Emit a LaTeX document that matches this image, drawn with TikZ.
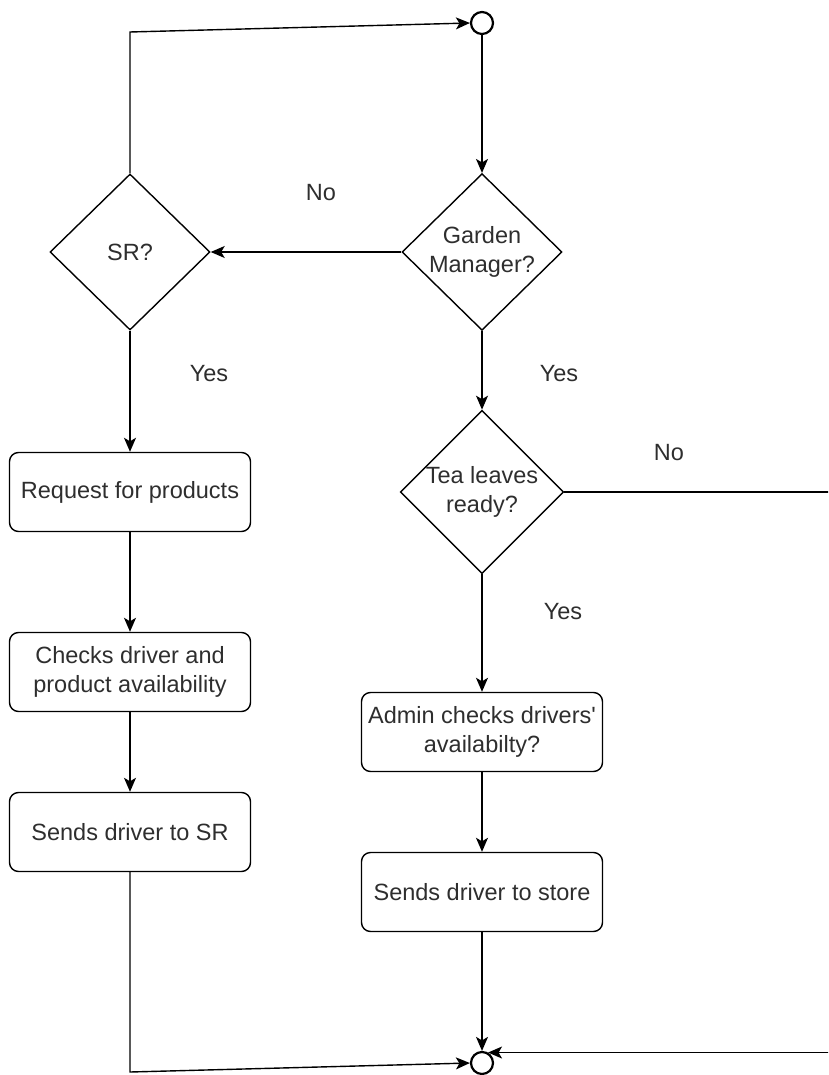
\documentclass[tikz,border=0pt]{standalone}
\usepackage{fontspec}
\setmainfont{Liberation Sans}
\usetikzlibrary{shapes.geometric,arrows.meta}
\begin{document}
\begin{tikzpicture}[x=1pt,y=-1pt,
  txt/.style={font=\fontsize{23.5}{29}\selectfont, text=black!82},
  proc/.style={txt, draw, rounded corners=9pt, minimum width=241pt, minimum height=79pt,
    align=center, inner sep=0pt, line width=1.4pt},
  decision/.style={txt, draw, diamond, minimum width=160pt, minimum height=156pt,
    inner sep=0pt, align=center, line width=1.4pt},
  term/.style={draw, circle, minimum size=22pt, inner sep=0pt, line width=2.2pt},
  flow/.style={line width=1.4pt, -{Stealth[length=14pt,width=12pt,inset=3.5pt]}},
  lbl/.style={txt}
]
\clip (0,0) rectangle (828,1075);

% start / end markers
\node[term] (start) at (482,23) {};
\node[term] (end) at (482,1063) {};

% decisions
\node[decision] (gm)  at (482,252) {Garden\\Manager?};
\node[decision] (sr)  at (130,252) {SR?};
\node[decision] (tea) at (482,492) {Tea leaves\\ready?};

% left branch
\node[proc] (req) at (130,492) {Request for products};
\node[proc] (chk) at (130,672) {Checks driver and\\product availability};
\node[proc] (sds) at (130,832) {Sends driver to SR};

% right branch
\node[proc] (adm) at (482,732) {Admin checks drivers\textquotesingle\\availabilty?};
\node[proc] (sst) at (482,892) {Sends driver to store};

% bend points
\coordinate (tl) at (130,32);
\coordinate (bl) at (130,1072);
\coordinate (rr) at (840,492);

% connectors
\draw[flow] (sr.north) -- (tl) -- (start.west);
\draw[flow] (start.south) -- (gm.north);
\draw[flow] (gm.west) -- (sr.east);
\draw[flow] (sr.south) -- (req.north);
\draw[flow] (req) -- (chk);
\draw[flow] (chk) -- (sds);
\draw[flow] (gm.south) -- (tea.north);
\draw[flow] (tea.south) -- (adm.north);
\draw[flow] (adm) -- (sst);
\draw[flow] (sst.south) -- (end.north);
\draw[flow] (sds.south) -- (bl) -- (end.west);
\draw[flow] (tea.east) -- (rr) |- (end.60);

% branch labels
\node[lbl] (l1) at (321,193) {No};
\node[lbl] (l2) at (209,374) {Yes};
\node[lbl] (l3) at (559,374) {Yes};
\node[lbl] (l4) at (669,453) {No};
\node[lbl] (l5) at (563,612) {Yes};
\end{tikzpicture}
\end{document}
